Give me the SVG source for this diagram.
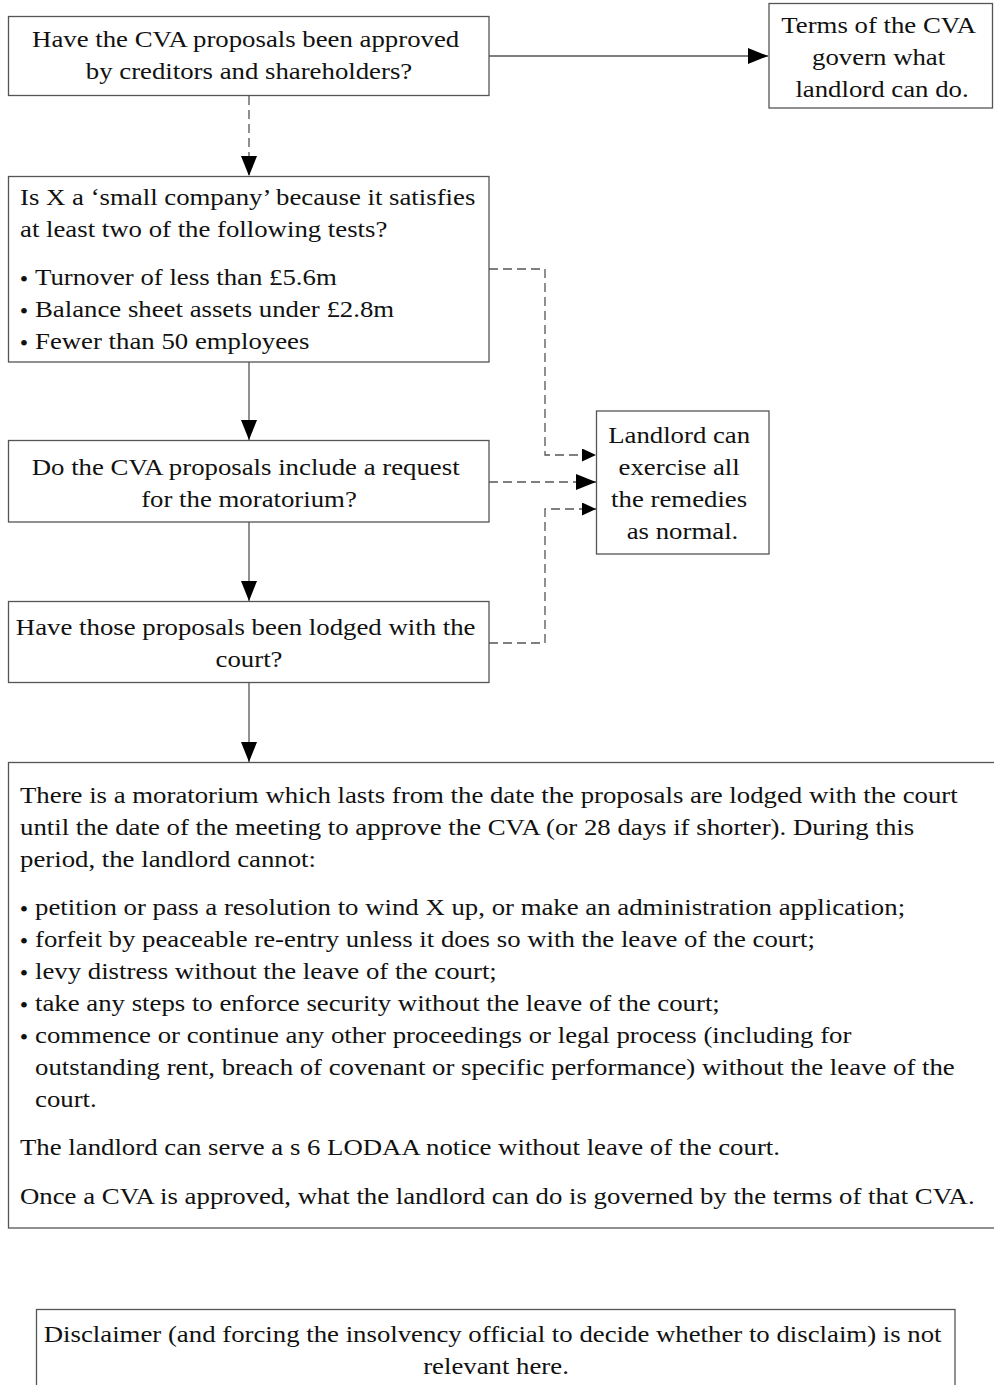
<svg xmlns="http://www.w3.org/2000/svg" width="994" height="1385" viewBox="0 0 994 1385">
  <style>
    .box { fill: #ffffff; stroke: #555555; stroke-width: 1.3; }
    .t { font-family: "Liberation Serif", "Times New Roman", serif; font-size: 23px; fill: #111111; }
    .mid { text-anchor: middle; }
    .bul { font-family: "Liberation Serif", "Times New Roman", serif; font-size: 24px; fill: #111111; text-anchor: middle; }
    .line { fill: none; stroke: #555555; stroke-width: 1.3; }
    .dash { stroke-dasharray: 9 5; }
  </style>
  <defs>
    <marker id="arrow" markerUnits="userSpaceOnUse" markerWidth="20" markerHeight="16" refX="20" refY="8" orient="auto">
      <path d="M0,0 L20,8 L0,16 Z" fill="#000000"/>
    </marker>
    <marker id="arrow-sm" markerUnits="userSpaceOnUse" markerWidth="14" markerHeight="13" refX="14" refY="6.5" orient="auto">
      <path d="M0,0 L14,6.5 L0,13 Z" fill="#000000"/>
    </marker>
  </defs>

  <!-- connectors -->
  <g id="connectors">
    <path class="line" d="M489,56 H768" marker-end="url(#arrow)"/>
    <path class="line dash" d="M249,96 V176" marker-end="url(#arrow)"/>
    <path class="line" d="M249,362 V440" marker-end="url(#arrow)"/>
    <path class="line" d="M249,522 V601" marker-end="url(#arrow)"/>
    <path class="line" d="M249,682 V762" marker-end="url(#arrow)"/>
    <path class="line dash" d="M489,269 H545 V455 H596" marker-end="url(#arrow-sm)"/>
    <path class="line dash" d="M489,482 H596" marker-end="url(#arrow)"/>
    <path class="line dash" d="M489,643 H545 V509 H596" marker-end="url(#arrow-sm)"/>
  </g>

  <!-- question: approval -->
  <g id="approved">
    <rect class="box" x="8.5" y="16.5" width="480.5" height="79"/>
    <text class="t mid" transform="translate(249 0) scale(1.165 1)">
      <tspan x="0" y="47">Have the CVA proposals been approved</tspan>
      <tspan x="0" y="79">by creditors and shareholders?</tspan>
    </text>
  </g>

  <!-- outcome: terms of the CVA -->
  <g id="terms">
    <rect class="box" x="769" y="3.5" width="223.5" height="104.5"/>
    <text class="t mid" transform="translate(882 0) scale(1.165 1)">
      <tspan x="0" y="33">Terms of the CVA</tspan>
      <tspan x="0" y="65">govern what</tspan>
      <tspan x="0" y="97">landlord can do.</tspan>
    </text>
  </g>

  <!-- question: small company -->
  <g id="small-company">
    <rect class="box" x="8.5" y="176.5" width="480.5" height="185.5"/>
    <text class="t" transform="translate(20 0) scale(1.165 1)">
      <tspan x="0" y="205">Is X a ‘small company’ because it satisfies</tspan>
      <tspan x="0" y="237">at least two of the following tests?</tspan>
    </text>
    <text class="bul"><tspan x="24" y="287">•</tspan><tspan x="24" y="319">•</tspan><tspan x="24" y="351">•</tspan></text>
    <text class="t" transform="translate(35 0) scale(1.165 1)">
      <tspan x="0" y="285">Turnover of less than £5.6m</tspan>
      <tspan x="0" y="317">Balance sheet assets under £2.8m</tspan>
      <tspan x="0" y="349">Fewer than 50 employees</tspan>
    </text>
  </g>

  <!-- outcome: normal remedies -->
  <g id="remedies">
    <rect class="box" x="596.5" y="411" width="172.5" height="143"/>
    <text class="t mid" transform="translate(682.5 0) scale(1.165 1)">
      <tspan x="0" y="443">Landlord can</tspan>
      <tspan x="0" y="475">exercise all</tspan>
      <tspan x="0" y="507">the remedies</tspan>
      <tspan x="0" y="539">as normal.</tspan>
    </text>
  </g>

  <!-- question: moratorium request -->
  <g id="request">
    <rect class="box" x="8.5" y="440.5" width="480.5" height="81.5"/>
    <text class="t mid" transform="translate(249 0) scale(1.165 1)">
      <tspan x="0" y="475">Do the CVA proposals include a request</tspan>
      <tspan x="0" y="507">for the moratorium?</tspan>
    </text>
  </g>

  <!-- question: lodged with the court -->
  <g id="lodged">
    <rect class="box" x="8.5" y="601.5" width="480.5" height="81"/>
    <text class="t mid" transform="translate(249 0) scale(1.165 1)">
      <tspan x="0" y="635">Have those proposals been lodged with the</tspan>
      <tspan x="0" y="667">court?</tspan>
    </text>
  </g>

  <!-- outcome: moratorium -->
  <g id="moratorium">
    <rect class="box" x="8.5" y="762.5" width="1000" height="465.5"/>
    <text class="t" transform="translate(20 0) scale(1.165 1)">
      <tspan x="0" y="803">There is a moratorium which lasts from the date the proposals are lodged with the court</tspan>
      <tspan x="0" y="835">until the date of the meeting to approve the CVA (or 28 days if shorter). During this</tspan>
      <tspan x="0" y="867">period, the landlord cannot:</tspan>
      <tspan x="0" y="1155">The landlord can serve a s 6 LODAA notice without leave of the court.</tspan>
      <tspan x="0" y="1204">Once a CVA is approved, what the landlord can do is governed by the terms of that CVA.</tspan>
    </text>
    <text class="bul"><tspan x="24" y="917">•</tspan><tspan x="24" y="949">•</tspan><tspan x="24" y="981">•</tspan><tspan x="24" y="1013">•</tspan><tspan x="24" y="1045">•</tspan></text>
    <text class="t" transform="translate(35 0) scale(1.165 1)">
      <tspan x="0" y="915">petition or pass a resolution to wind X up, or make an administration application;</tspan>
      <tspan x="0" y="947">forfeit by peaceable re-entry unless it does so with the leave of the court;</tspan>
      <tspan x="0" y="979">levy distress without the leave of the court;</tspan>
      <tspan x="0" y="1011">take any steps to enforce security without the leave of the court;</tspan>
      <tspan x="0" y="1043">commence or continue any other proceedings or legal process (including for</tspan>
      <tspan x="0" y="1075">outstanding rent, breach of covenant or specific performance) without the leave of the</tspan>
      <tspan x="0" y="1107">court.</tspan>
    </text>
  </g>

  <!-- note: disclaimer -->
  <g id="disclaimer">
    <rect class="box" x="36.5" y="1309.5" width="918.5" height="100"/>
    <text class="t mid" transform="translate(496 0) scale(1.165 1)">
      <tspan x="0" y="1342">Disclaimer (and forcing the insolvency official to decide whether to disclaim) is not</tspan>
      <tspan x="0" y="1374">relevant here.</tspan>
    </text>
  </g>
</svg>
